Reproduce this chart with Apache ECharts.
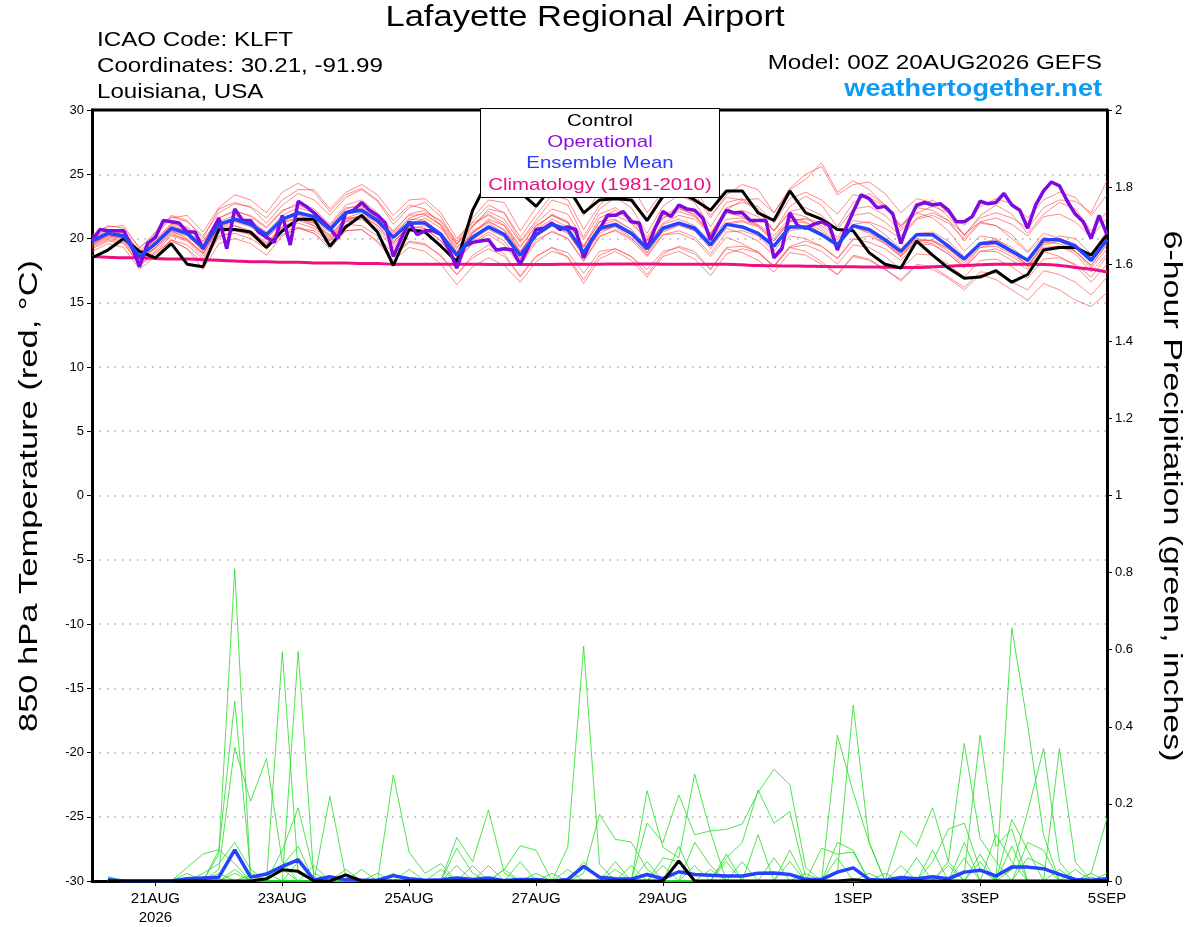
<!DOCTYPE html>
<html>
<head>
<meta charset="utf-8">
<title>Lafayette Regional Airport</title>
<script src="https://cdn.jsdelivr.net/npm/echarts@6/dist/echarts.min.js"></script>
<style>
html, body { margin: 0; padding: 0; background: #fff; }
#chart { width: 1200px; height: 927px; }
</style>
</head>
<body>
<div id="chart"></div>
<script>
// x axis: forecast hour from 00Z 20AUG2026
var tickHours = [24, 72, 120, 168, 216, 288, 336, 384];
var tickLabels = ['21AUG\n2026', '23AUG', '25AUG', '27AUG', '29AUG', '1SEP', '3SEP', '5SEP'];

// 850 hPa temperature, 6-hourly (00Z 20AUG .. 00Z 5SEP)
var controlTemp = [
  18.5, 19.1, 20.0, 19.0, 18.5, 19.6, 18.0, 17.8,
  20.7, 20.7, 20.5, 19.3, 20.6, 21.5, 21.5, 19.4,
  20.9, 21.8, 20.5, 17.9, 20.7, 20.5, 19.4, 18.2,
  22.2, 24.6, 24.2, 23.6, 22.5, 24.0, 24.0, 22.0,
  23.0, 23.1, 23.0, 21.4, 23.3, 23.6, 23.0, 22.2,
  23.7, 23.7, 22.0, 21.4, 23.7, 22.0, 21.5, 20.7,
  20.6, 18.9, 18.0, 17.7, 19.8, 18.7, 17.7, 16.9,
  17.0, 17.5, 16.6, 17.2, 19.1, 19.3, 19.3, 18.7,
  20.3
];
var meanTemp = [
  19.8, 20.4, 20.2, 18.6, 19.6, 20.8, 20.4, 19.3,
  21.1, 21.5, 21.1, 20.3, 21.5, 22.0, 21.7, 20.7,
  22.0, 22.2, 21.4, 20.1, 21.2, 21.2, 20.3, 18.7,
  20.1, 20.9, 20.3, 18.7, 20.3, 21.1, 20.7, 18.9,
  20.8, 21.1, 20.4, 19.2, 20.8, 21.2, 20.8, 19.5,
  21.1, 20.9, 20.4, 19.4, 20.9, 20.9, 20.3, 19.5,
  21.0, 20.7, 19.9, 19.0, 20.3, 20.3, 19.4, 18.4,
  19.6, 19.7, 19.0, 18.3, 19.9, 19.9, 19.4, 18.3,
  19.9
];
var climTemp = [
  18.6, 18.55, 18.5, 18.5, 18.45, 18.4, 18.4, 18.35,
  18.3, 18.25, 18.2, 18.2, 18.15, 18.15, 18.1, 18.1,
  18.1, 18.05, 18.05, 18.0, 18.0, 18.0, 18.0, 18.0,
  18.0, 17.98, 17.97, 17.97, 17.97, 17.98, 18.0, 18.0,
  18.0, 18.02, 18.02, 18.02, 18.0, 18.0, 18.0, 18.0,
  18.0, 17.95, 17.9, 17.88, 17.86, 17.85, 17.83, 17.8,
  17.8, 17.78, 17.77, 17.75, 17.74, 17.8, 17.85, 17.9,
  17.95, 18.0, 18.0, 18.0, 17.98, 17.9, 17.75, 17.6,
  17.4
];
// operational run, 3-hourly
var operTemp = [
  19.8, 20.7, 20.6, 20.6, 20.6, 19.4, 17.8, 19.6,
  20.1, 21.4, 21.3, 21.2, 20.5, 20.5, 19.2, 20.4,
  21.6, 19.2, 22.3, 21.4, 21.4, 20.5, 20.1, 19.7,
  21.8, 19.5, 22.9, 22.5, 22.0, 21.4, 20.8, 20.0,
  22.0, 22.2, 22.8, 22.2, 21.8, 21.2, 18.6, 20.0,
  21.3, 20.3, 20.6, 20.6, 20.3, 19.2, 17.7, 19.4,
  19.7, 19.8, 19.9, 19.1, 19.2, 19.1, 18.0, 19.3,
  20.7, 20.8, 21.2, 20.7, 20.9, 20.7, 18.5, 19.9,
  20.7, 21.8, 21.8, 22.1, 21.3, 21.2, 19.2, 20.8,
  22.1, 21.7, 22.6, 22.3, 22.2, 21.6, 19.9, 21.1,
  22.2, 22.0, 22.0, 21.4, 21.4, 21.4, 18.5, 19.2,
  22.0, 21.0, 20.8, 21.1, 21.3, 21.0, 19.1, 20.7,
  22.1, 23.4, 23.1, 22.4, 22.5, 21.9, 19.6, 21.3,
  22.6, 22.8, 22.6, 22.7, 22.2, 21.3, 21.3, 21.7,
  22.9, 22.7, 22.8, 23.5, 22.6, 22.2, 20.8, 22.6,
  23.7, 24.4, 24.1, 22.9, 21.9, 21.3, 20.0, 21.8,
  20.3
];
// ensemble members, 6-hourly
var memberTemps = [
  [20.2,20.9,21.0,19.2,20.5,21.8,21.4,20.0, 22.3,22.8,22.4,21.2,22.6,23.5,23.0,21.8, 23.2,23.8,22.9,21.1,22.4,22.8,21.7,19.6, 21.3,22.6,22.0,19.8,21.4,23.0,22.6,20.1, 22.3,23.2,22.4,20.4,22.5,23.4,22.8,20.9, 22.8,23.1,22.3,20.6,22.5,23.3,22.6,20.9, 22.8,23.5,22.6,20.8,22.4,23.0,22.0,20.2, 21.8,22.6,21.9,20.4,21.9,22.8,22.3,20.6, 22.1],
  [19.2,19.8,19.6,18.0,18.9,19.9,19.5,18.4, 20.2,20.4,20.0,19.2,20.3,20.8,20.4,19.5, 20.6,20.7,19.8,18.6,19.7,19.5,18.7,17.2, 18.5,19.2,18.6,17.1,18.6,19.3,18.9,17.3, 19.0,19.2,18.6,17.6,19.0,19.3,18.8,17.6, 19.2,18.9,18.3,17.4,18.9,18.7,18.0,17.2, 18.6,18.3,17.6,16.8,18.0,17.8,17.0,16.2, 17.4,17.3,16.6,16.0,17.5,17.2,16.6,15.6, 17.0],
  [19.9,20.5,20.6,18.9,19.8,21.2,20.9,19.8, 21.6,22.2,21.7,20.8,22.1,22.8,22.3,21.1, 22.6,23.0,22.0,20.5,21.9,22.2,21.3,19.6, 21.0,22.1,21.5,19.7,21.2,22.3,21.9,19.9, 21.9,22.4,21.6,20.1,21.8,22.4,21.8,20.3, 22.0,21.7,21.0,19.8,21.4,21.2,20.4,19.4, 20.9,20.4,19.6,18.6,19.8,19.6,18.8,17.8, 19.0,19.0,18.3,17.6,19.2,19.4,19.0,17.9, 19.6],
  [19.6,20.3,20.5,19.0,20.2,21.6,21.8,20.5, 22.4,23.4,23.0,22.0,23.6,24.3,23.6,22.1, 23.4,23.9,23.0,21.4,22.6,22.3,21.0,18.9, 20.4,21.4,20.6,18.9,20.8,21.9,21.3,19.4, 21.6,22.2,21.4,19.8,21.6,22.3,21.9,20.4, 22.4,22.8,22.5,21.2,23.1,23.6,23.0,21.9, 23.4,23.2,22.5,21.0,22.4,22.2,21.4,19.8, 21.2,21.0,20.3,19.0,20.4,20.0,19.5,18.4, 20.0],
  [19.0,19.6,19.3,17.6,18.6,19.9,19.2,18.1, 20.1,20.6,20.3,19.5,20.9,21.4,21.0,20.0, 21.4,21.8,21.0,19.6,21.0,21.6,20.8,19.2, 20.9,22.3,22.0,20.1,21.8,23.4,23.0,20.7, 22.6,23.8,23.3,21.3,23.1,24.0,23.5,21.6, 23.4,24.2,23.8,22.0,23.9,25.0,25.6,23.4, 24.2,24.4,23.5,22.0,23.1,22.8,21.7,20.3, 21.3,21.0,20.0,18.9,20.1,19.8,19.0,17.7, 19.2],
  [20.0,20.6,20.3,18.5,19.5,20.6,20.0,18.8, 20.8,21.0,20.6,19.7,20.9,21.2,20.8,19.9, 21.3,21.5,20.6,19.3,20.5,20.8,19.8,18.2, 19.7,20.5,19.8,18.1,19.9,20.5,20.0,18.3, 20.2,20.6,19.9,18.6,20.3,20.4,19.9,18.6, 20.1,19.6,18.9,17.8,19.3,19.0,18.2,17.2, 18.7,18.4,17.6,16.7,17.9,17.6,16.9,16.0, 17.2,16.8,16.0,15.2,16.5,16.0,15.2,14.7, 15.8],
  [19.5,20.1,19.9,18.3,19.3,20.5,20.2,19.1, 21.0,21.6,21.4,20.5,21.8,22.4,22.0,20.9, 22.3,22.6,21.6,20.2,21.6,22.0,21.4,19.8, 21.6,23.0,22.8,20.6,22.4,24.2,24.5,21.8, 23.6,24.8,24.2,22.0,23.7,24.6,24.0,21.8, 23.2,23.0,22.1,20.6,22.0,21.7,20.8,19.6, 21.0,20.6,19.8,18.8,20.0,19.8,19.0,17.9, 19.3,19.4,18.8,17.9,19.6,20.2,20.0,18.8, 20.6],
  [19.7,20.4,20.1,18.4,19.3,20.4,19.9,18.8, 20.6,21.0,20.5,19.6,20.9,21.5,21.2,20.2, 21.6,22.0,21.2,19.8,20.9,20.8,19.8,18.3, 19.6,20.3,19.5,17.9,19.7,20.6,20.0,18.2, 20.1,20.7,20.0,18.9,20.6,21.1,20.7,19.4, 21.1,21.3,20.9,19.8,21.3,21.6,21.2,20.1, 21.8,22.0,21.3,20.2,21.6,22.0,21.4,20.3, 21.6,22.0,21.6,20.8,22.4,23.0,22.9,22.0, 24.5],
  [19.4,20.0,19.8,18.2,19.0,20.2,19.8,18.6, 20.4,20.8,20.3,19.2,20.5,20.9,20.4,19.2, 20.6,20.7,19.7,18.3,19.3,19.0,18.0,16.4, 17.8,18.5,17.9,16.6,18.2,19.0,18.6,16.8, 18.7,19.2,18.6,17.2,18.8,19.4,19.0,17.6, 19.3,19.4,19.0,17.8,19.3,19.5,19.0,18.0, 19.5,19.3,18.6,17.6,18.8,18.7,18.0,17.0, 18.3,18.4,17.8,16.9,18.4,18.5,18.0,17.0, 18.6],
  [20.3,21.0,20.8,19.3,20.4,21.7,21.3,20.2, 22.0,22.7,22.5,21.6,23.0,23.8,23.8,22.3, 23.6,24.2,23.4,21.8,23.0,23.1,22.0,20.0, 21.2,21.8,21.0,19.0,20.6,21.2,20.6,18.8, 20.6,20.9,20.1,18.7,20.3,20.6,20.1,18.8, 20.5,20.6,20.2,19.0,20.6,20.8,20.4,19.4, 21.1,21.3,20.8,20.0,21.5,21.8,21.2,20.0, 21.3,21.6,21.1,20.2,21.7,21.9,21.3,20.1, 21.6],
  [19.3,19.9,19.7,17.9,18.8,19.8,19.2,17.6, 19.6,20.0,19.6,18.7,20.2,20.8,20.6,19.8, 21.3,21.8,21.3,20.0,21.4,21.8,21.1,19.5, 21.0,21.9,21.2,19.4,21.0,21.8,21.2,19.3, 21.3,21.8,21.2,19.9,21.6,22.1,21.7,20.4, 22.0,22.2,21.7,20.6,22.1,22.4,21.8,20.7, 22.3,22.5,21.8,20.6,22.0,22.5,22.0,21.0, 22.5,23.1,22.7,21.6,23.0,23.6,23.2,21.8, 23.4],
  [19.9,20.5,20.3,18.7,19.7,21.0,20.6,19.4, 21.3,21.8,21.3,20.4,21.4,21.8,21.3,20.3, 21.6,21.6,20.8,19.5,20.8,21.0,20.3,18.9, 20.4,21.5,21.0,19.3,21.0,21.8,21.3,19.4, 21.3,21.5,20.7,19.3,20.9,21.2,20.6,19.2, 20.8,20.4,19.8,18.7,20.2,20.0,19.4,18.5, 20.0,19.7,19.2,18.3,19.6,19.5,18.8,17.7, 19.0,19.2,18.6,17.8,19.5,19.8,19.3,18.2, 19.8],
  [19.8,20.3,20.0,18.4,19.5,20.6,20.3,19.0, 20.8,21.3,20.9,20.0,21.2,21.6,21.2,20.1, 21.5,21.8,21.0,19.7,21.0,21.3,20.5,19.0, 20.5,21.2,20.4,18.5,20.1,21.0,20.4,18.6, 20.4,21.0,20.5,19.4,21.2,21.8,21.5,20.3, 22.2,23.0,23.1,22.0,23.8,24.6,25.9,23.6, 24.5,23.8,22.6,21.0,22.0,21.6,20.6,19.0, 20.2,20.0,19.1,17.8,19.0,18.6,17.9,16.6, 18.0],
  [19.6,20.2,20.1,18.6,19.6,20.9,20.6,19.5, 21.2,21.6,21.1,20.0,21.3,21.6,21.0,19.8, 21.1,21.0,20.2,18.8,19.8,19.6,18.6,17.2, 18.7,19.5,18.8,17.0,18.6,19.3,18.5,16.5, 18.4,19.0,18.3,17.0,18.6,19.0,18.4,17.1, 18.8,19.2,18.9,17.9,19.4,19.8,19.4,18.4, 19.9,20.2,19.6,18.6,19.8,19.9,19.2,18.1, 19.3,19.6,19.0,17.9,19.3,19.4,18.8,17.4, 18.8],
  [20.1,20.7,20.4,18.8,19.9,21.1,20.8,19.7, 21.6,22.1,21.8,20.9,22.2,22.6,22.1,21.0, 22.4,22.5,21.8,20.6,21.8,21.9,21.0,19.3, 20.6,21.3,20.7,19.0,20.7,21.5,20.9,19.1, 21.0,21.4,20.7,19.4,21.1,21.5,21.0,19.8, 21.5,21.6,21.1,20.2,21.6,21.3,20.6,19.5, 20.9,20.5,19.7,18.7,19.9,19.8,19.2,18.3, 19.6,19.7,19.1,18.2,19.7,19.6,19.0,17.9, 19.5],
  [19.5,20.2,20.0,18.3,19.2,20.3,19.9,18.9, 20.9,21.4,21.0,20.2,21.4,21.9,21.4,20.5, 21.9,22.4,21.6,20.4,21.5,21.4,20.4,18.6, 19.9,20.7,20.1,18.4,20.2,21.0,20.5,18.7, 20.6,21.0,20.3,18.9,20.5,21.0,20.6,19.5, 21.2,21.4,21.0,20.0,21.4,21.5,21.0,19.9, 21.4,21.2,20.3,19.2,20.4,20.5,19.8,18.6, 19.7,19.9,19.3,18.3,19.9,20.0,19.6,18.5, 20.2]
];

// 6-hour precipitation (inches), valid 06Z 20AUG .. 00Z 5SEP
var meanPrecip = [
  0.003, 0, 0, 0, 0, 0.006, 0.008, 0.01,
  0.081, 0.01, 0.018, 0.038, 0.055, 0.003, 0.011, 0.003,
  0.002, 0.002, 0.014, 0.006, 0.002, 0.003, 0.008, 0.004,
  0.008, 0.001, 0.004, 0.004, 0, 0.004, 0.038, 0.01,
  0.006, 0.005, 0.017, 0.006, 0.024, 0.017, 0.015, 0.013,
  0.013, 0.02, 0.021, 0.017, 0.004, 0.004, 0.023, 0.034,
  0.004, 0.002, 0.009, 0.006, 0.011, 0.006, 0.023, 0.028,
  0.013, 0.036, 0.036, 0.032, 0.017, 0.004, 0.002, 0.006
];
var controlPrecip = [
  0, 0, 0, 0, 0, 0, 0, 0,
  0, 0, 0.006, 0.029, 0.025, 0, 0, 0.016,
  0, 0, 0, 0, 0, 0, 0, 0,
  0, 0, 0, 0, 0, 0, 0, 0,
  0, 0, 0, 0, 0.052, 0, 0, 0,
  0, 0, 0, 0, 0, 0, 0, 0.003,
  0, 0, 0, 0, 0, 0, 0, 0,
  0, 0, 0, 0, 0, 0, 0, 0
];
var memberPrecip = [
  [0,0,0,0,0,0,0,0.07, 0.81,0,0,0,0,0,0,0, 0,0,0,0,0,0,0,0, 0,0,0,0,0,0.088,0.609,0.044, 0,0,0,0,0,0,0,0, 0,0,0,0,0,0,0,0, 0,0,0,0,0,0,0,0, 0,0.656,0.404,0.12,0,0,0,0],
  [0,0,0,0,0,0,0,0.08, 0.466,0.02,0,0,0,0,0,0, 0,0,0,0,0,0,0,0, 0,0,0,0,0,0,0,0, 0,0,0.234,0.088,0.06,0.277,0.127,0, 0,0,0,0,0,0,0,0, 0,0,0,0,0,0,0,0, 0,0,0,0,0.344,0.05,0,0],
  [0,0,0,0,0,0,0,0.03, 0.347,0.207,0.318,0.05,0,0,0,0, 0,0,0,0,0,0,0,0, 0,0,0,0,0,0,0,0, 0,0,0,0,0,0,0,0, 0,0,0,0,0,0,0.378,0.23, 0.1,0,0,0,0,0,0,0, 0,0,0,0,0,0,0,0],
  [0,0,0,0,0,0,0,0, 0,0,0,0.595,0.02,0,0,0, 0,0,0,0,0,0,0,0, 0,0,0,0,0,0,0,0, 0,0,0.15,0.1,0.223,0.12,0.13,0.134, 0.148,0.23,0.29,0.25,0.035,0,0,0, 0,0,0,0,0,0,0,0, 0,0,0,0,0,0,0,0],
  [0,0,0,0,0,0,0,0, 0,0,0,0,0.595,0,0,0, 0,0,0,0,0,0,0,0, 0,0,0,0,0,0,0,0, 0,0,0,0,0,0,0,0, 0,0,0,0,0,0,0.02,0.456, 0.1,0,0,0,0,0,0.02,0.378, 0.09,0.135,0,0,0,0,0,0],
  [0,0,0,0,0,0,0,0, 0,0,0,0.08,0.19,0.02,0,0, 0,0,0,0,0,0,0.113,0.05, 0.184,0.02,0,0,0,0,0,0, 0,0,0,0,0,0,0,0, 0,0,0,0,0,0,0,0, 0,0,0,0,0,0.05,0.357,0.11, 0.05,0,0,0,0,0,0,0],
  [0,0,0,0,0,0,0,0, 0,0,0,0,0,0,0.22,0.01, 0,0,0,0,0,0,0,0, 0,0,0,0,0,0,0,0, 0,0,0,0,0,0,0,0.06, 0.1,0.236,0.15,0.18,0.01,0,0,0, 0,0,0,0,0,0,0,0, 0,0.03,0.18,0.344,0.05,0,0,0],
  [0.011,0,0,0,0,0,0,0, 0,0,0,0,0,0,0,0, 0,0,0.275,0.074,0.02,0.045,0,0, 0,0,0,0,0,0,0,0, 0,0,0,0,0,0,0,0, 0,0,0,0,0,0,0,0, 0,0,0.13,0.09,0.19,0.05,0,0, 0,0,0,0,0,0,0.02,0.163],
  [0,0,0,0,0,0.035,0.07,0.081, 0.045,0,0,0,0,0,0,0, 0,0,0,0,0,0,0.085,0.02, 0,0.03,0.091,0.08,0,0,0.02,0.173, 0.108,0.101,0.03,0,0,0,0,0, 0,0,0,0,0,0,0,0, 0,0,0,0,0.05,0.135,0.15,0.03, 0,0,0,0,0,0,0,0],
  [0.011,0,0,0,0,0,0.02,0.045, 0.1,0.03,0,0.04,0.09,0,0,0, 0,0,0,0,0,0.03,0,0, 0,0,0,0,0.02,0,0,0, 0.05,0,0,0,0,0.04,0,0, 0,0,0,0.05,0,0,0.1,0.08, 0,0,0,0,0,0,0.06,0, 0,0.09,0,0,0,0,0,0],
  [0,0,0,0,0,0,0,0, 0.03,0,0,0.03,0.06,0,0,0.03, 0,0,0,0,0,0,0,0.04, 0,0,0.05,0,0,0,0,0, 0,0,0,0.06,0.05,0,0,0.07, 0,0,0,0,0.02,0,0,0, 0,0,0,0.06,0,0,0,0.07, 0,0,0.1,0.08,0,0,0.02,0],
  [0,0,0,0,0,0,0,0, 0,0,0.02,0,0,0.04,0,0, 0,0,0,0.03,0,0,0,0, 0,0.03,0,0,0,0,0,0, 0,0,0.05,0,0,0.1,0.04,0, 0,0,0,0,0,0.085,0.07,0.075, 0,0,0,0,0,0.04,0,0, 0.12,0.05,0,0,0,0,0,0],
  [0,0,0,0,0,0.02,0,0, 0.02,0,0,0,0,0,0,0, 0.03,0,0,0,0,0,0.04,0, 0,0,0,0,0,0.03,0,0, 0,0,0,0,0.09,0,0,0, 0.05,0,0.06,0,0,0,0,0, 0.02,0,0.04,0,0.08,0,0,0, 0,0,0.06,0.04,0,0.03,0,0.02],
  [0,0,0,0,0,0,0,0.02, 0,0,0,0,0.05,0,0,0, 0,0.02,0,0,0,0,0,0, 0.04,0,0,0,0,0,0.05,0, 0,0.04,0,0,0,0,0.03,0, 0,0.12,0,0.08,0,0,0,0, 0,0,0,0,0,0,0.1,0, 0,0.16,0.08,0,0,0,0,0],
  [0,0,0,0,0,0,0,0, 0,0.015,0,0.03,0,0,0,0, 0,0,0.02,0,0,0,0,0, 0,0,0,0.02,0,0,0,0, 0.03,0,0,0.04,0,0,0,0.05, 0,0,0,0,0,0,0.06,0, 0,0.02,0,0,0,0,0,0.05, 0,0,0,0,0.03,0,0.01,0]
];

var tempHours = [], operHours = [], precipHours = [];
for (var i = 0; i <= 64; i++) tempHours.push(i * 6);
for (i = 0; i <= 128; i++) operHours.push(i * 3);
for (i = 1; i <= 64; i++) precipHours.push(i * 6);

function pairs(hours, vals) {
  return vals.map(function (v, k) { return [hours[k], v]; });
}

var FONT = '"Liberation Sans", Arimo, Helvetica, Arial, sans-serif';
var myChart = echarts.init(document.getElementById('chart'));

var series = [];
// green members (precip, right axis)
memberPrecip.forEach(function (m) {
  series.push({
    type: 'line', yAxisIndex: 1, data: pairs(precipHours, m),
    showSymbol: false, silent: true,
    lineStyle: { color: '#22dd22', width: 0.8 }
  });
});
// red members (temperature)
memberTemps.forEach(function (m) {
  series.push({
    type: 'line', data: pairs(tempHours, m),
    showSymbol: false, silent: true,
    lineStyle: { color: 'rgba(255,60,60,0.75)', width: 0.8 }
  });
});
series.push({
  name: 'Climatology (1981-2010)', type: 'line', data: pairs(tempHours, climTemp),
  showSymbol: false, smooth: true, lineStyle: { color: '#ee1080', width: 3 }
});
series.push({
  name: 'Control', type: 'line', data: pairs(tempHours, controlTemp),
  showSymbol: false, lineStyle: { color: '#000000', width: 3 }
});
series.push({
  name: 'Operational', type: 'line', data: pairs(operHours, operTemp),
  showSymbol: false, lineStyle: { color: '#7f0ae0', width: 3.5 }
});
series.push({
  name: 'Ensemble Mean', type: 'line', data: pairs(tempHours, meanTemp),
  showSymbol: false, lineStyle: { color: '#2244ff', width: 3.5 }
});
series.push({
  type: 'line', yAxisIndex: 1, data: pairs(precipHours, meanPrecip),
  showSymbol: false, lineStyle: { color: '#2244ff', width: 3.5 }
});
series.push({
  type: 'line', yAxisIndex: 1, data: pairs(precipHours, controlPrecip),
  showSymbol: false, lineStyle: { color: '#000000', width: 3 }
});

// the source chart uses a wide-set font, so stretch text horizontally
function label(text, x, y, size, color, align, sx, extra) {
  var el = {
    type: 'text', x: x, y: y, scaleX: sx, z: 101,
    style: { text: text, font: size + 'px ' + FONT, fill: color, align: align, verticalAlign: 'middle' }
  };
  if (extra) for (var k in extra) el[k] = extra[k];
  return el;
}

var option = {
  animation: false,
  backgroundColor: '#ffffff',
  textStyle: { fontFamily: FONT },
  grid: { left: 92, right: 93, top: 110, bottom: 44 },
  xAxis: {
    type: 'value', min: 0, max: 384,
    axisLine: { onZero: false, lineStyle: { color: '#000', width: 3 } },
    axisTick: { customValues: tickHours, length: 5, lineStyle: { color: '#000', width: 1 } },
    axisLabel: {
      customValues: tickHours, color: '#000', fontSize: 15, lineHeight: 19, margin: 8,
      formatter: function (v) { return tickLabels[tickHours.indexOf(v)]; }
    },
    splitLine: { show: false }
  },
  yAxis: [{
    type: 'value', min: -30, max: 30, interval: 5, position: 'left',
    axisLine: { show: true, lineStyle: { color: '#000', width: 3 } },
    axisTick: { show: true, length: 5, lineStyle: { color: '#000' } },
    axisLabel: { color: '#000', fontSize: 13, margin: 8 },
    splitLine: { show: true, lineStyle: { color: '#aaaaaa', width: 1.5, type: [1.5, 6] } }
  }, {
    type: 'value', min: 0, max: 2, interval: 0.2, position: 'right',
    axisLine: { show: true, lineStyle: { color: '#000', width: 3 } },
    axisTick: { show: true, length: 5, lineStyle: { color: '#000' } },
    axisLabel: { color: '#000', fontSize: 13, margin: 8 },
    splitLine: { show: false }
  }],
  graphic: [
    label('Lafayette Regional Airport', 585, 18, 29, '#000', 'center', 1.19),
    label('ICAO Code: KLFT', 97, 40, 21, '#000', 'left', 1.15),
    label('Coordinates: 30.21, -91.99', 97, 66, 21, '#000', 'left', 1.15),
    label('Louisiana, USA', 97, 92, 21, '#000', 'left', 1.15),
    label('Model: 00Z 20AUG2026 GEFS', 1102, 63, 21, '#000', 'right', 1.155),
    {
      type: 'text', x: 1102, y: 89, scaleX: 1.13, z: 101,
      style: { text: 'weathertogether.net', font: 'bold 24px ' + FONT, fill: '#0a9cf5', align: 'right', verticalAlign: 'middle' }
    },
    label('850 hPa Temperature (red, °C)', 30, 496, 25, '#000', 'center', 1.38, { rotation: Math.PI / 2 }),
    label('6-hour Precipitation (green, inches)', 1171, 496, 25, '#000', 'center', 1.36, { rotation: -Math.PI / 2 }),
    // top frame of the plot
    { type: 'line', z: 100, shape: { x1: 91, y1: 110, x2: 1108, y2: 110 }, style: { stroke: '#000', lineWidth: 3 } },
    // legend box, drawn over the lines
    { type: 'rect', z: 100, shape: { x: 480.5, y: 108.5, width: 239, height: 89 }, style: { fill: '#fff', stroke: '#000', lineWidth: 1 } },
    label('Control', 600, 121, 17, '#000000', 'center', 1.2),
    label('Operational', 600, 142, 17, '#8a10dd', 'center', 1.2),
    label('Ensemble Mean', 600, 163, 17, '#2a3cff', 'center', 1.2),
    label('Climatology (1981-2010)', 600, 185, 17, '#e8117f', 'center', 1.2)
  ],
  series: series
};

myChart.setOption(option);
</script>
</body>
</html>
